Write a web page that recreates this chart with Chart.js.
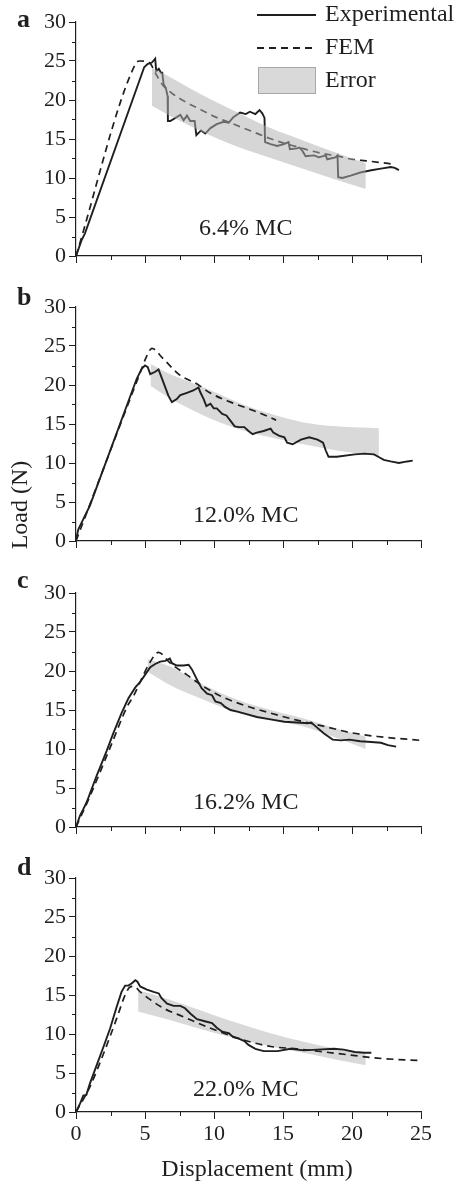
<!DOCTYPE html>
<html>
<head>
<meta charset="utf-8">
<title>Load vs displacement</title>
<script src="https://cdn.jsdelivr.net/npm/chart.js"></script>
<style>
  html, body { margin: 0; padding: 0; background: #fff; }
  #wrap { position: relative; width: 456px; height: 1190px; }
  #wrap canvas { position: absolute; left: 0; }
</style>
</head>
<body>
<div id="wrap"></div>
<script>
// x = displacement (mm), y = load (N)
const xTicks = [0, 5, 10, 15, 20, 25];
const yTicks = [0, 5, 10, 15, 20, 25, 30];
const mcLabels = ['6.4% MC', '12.0% MC', '16.2% MC', '22.0% MC'];
const panelLetters = ['a', 'b', 'c', 'd'];

// (a) 6.4% MC
const expA = [[0,0],[0.4,2.0],[0.65,2.9],[4.94,24.2],[5.18,24.6],[5.5,24.8],[5.74,25.3],[5.81,23.7],[6.0,24.0],[6.15,23.5],[6.25,23.5],[6.35,22.0],[6.5,21.6],[6.64,20.5],[6.66,17.3],[6.83,17.3],[7.3,17.8],[7.56,18.1],[7.8,17.4],[8.04,18.0],[8.28,17.3],[8.6,17.3],[8.72,15.5],[9.06,16.1],[9.37,15.7],[9.74,16.4],[10.2,16.9],[10.7,17.2],[11.07,17.1],[11.4,17.8],[11.9,18.4],[12.3,18.2],[12.6,18.5],[13.0,18.2],[13.3,18.7],[13.5,18.3],[13.66,17.7],[13.7,14.6],[14.1,14.35],[14.58,14.1],[15.07,14.35],[15.4,14.6],[15.5,13.7],[16.0,13.8],[16.2,13.9],[16.4,13.5],[16.64,12.8],[17.25,12.9],[17.6,12.65],[18.1,12.9],[18.2,12.4],[18.8,12.65],[18.95,12.9],[19.0,10.1],[19.3,10.0],[19.9,10.3],[20.6,10.7],[21.4,11.0],[22.1,11.2],[22.8,11.4],[23.1,11.3],[23.4,11.0]];
const femA = [[0,0],[4.3,24.6],[4.6,25.0],[5.3,24.8],[5.8,23.3],[6.3,21.9],[7,20.8],[8,19.7],[9,18.8],[10,17.9],[11,17.2],[12,16.5],[13,15.8],[14,15.1],[15,14.5],[16,14.0],[17,13.5],[18,13.1],[19,12.8],[20,12.4],[21,12.2],[22,12.0],[22.9,11.8]];
const bandAx = [5.5, 6.8, 9.25, 11.7, 14.1, 16.5, 18.9, 21.0];
const bandAhi = [24.15, 22.96, 20.53, 18.4, 16.4, 14.78, 13.2, 11.88];
const bandAlo = [19.25, 17.97, 15.84, 14.01, 12.56, 11.16, 9.75, 8.6];

// (b) 12.0% MC
const expB = [[0,0.2],[0.17,1.5],[0.53,2.8],[1.0,4.5],[4.4,20.8],[4.77,22.1],[5.0,22.5],[5.2,22.3],[5.38,21.4],[5.74,21.7],[5.98,22.0],[6.15,21.2],[6.47,19.7],[6.7,18.6],[6.95,17.8],[7.3,18.2],[7.56,18.7],[8.04,19.0],[8.5,19.3],[8.88,19.7],[9.0,19.1],[9.25,18.2],[9.45,17.3],[9.74,17.6],[9.98,17.0],[10.2,17.0],[10.6,16.3],[10.9,16.1],[11.2,15.4],[11.5,14.7],[11.8,14.6],[12.2,14.6],[12.5,14.1],[12.8,13.7],[13.1,13.9],[13.6,14.1],[14.1,14.4],[14.3,13.9],[14.7,13.5],[15.1,13.3],[15.3,12.6],[15.7,12.4],[16.3,13.0],[16.9,13.3],[17.5,13.0],[17.9,12.6],[18.1,11.6],[18.3,10.8],[18.9,10.8],[20.2,11.1],[20.9,11.2],[21.6,11.1],[22.0,10.7],[22.3,10.4],[22.8,10.2],[23.4,10.0],[24.0,10.2],[24.4,10.3]];
const femB = [[0,0],[4.7,21.8],[5.1,23.6],[5.5,24.7],[6.3,23.4],[7.5,21.3],[8.8,20.1],[9.7,19.0],[11.2,17.8],[12.9,16.7],[14.5,15.5]];
const bandBx = [5.4, 6.8, 9.25, 11.7, 14.1, 16.5, 18.9, 21.95];
const bandBhi = [22.7, 21.4, 19.7, 17.8, 16.3, 15.2, 14.7, 14.45];
const bandBlo = [19.9, 18.3, 16.1, 14.4, 13.3, 12.4, 11.6, 10.9];

// (c) 16.2% MC
const expC = [[0,0],[0.3,1.5],[0.53,2.3],[0.78,3.2],[1.5,6.6],[2.23,9.8],[2.7,12.0],[3.3,14.6],[3.8,16.5],[4.3,17.9],[4.65,18.6],[5.0,19.5],[5.38,20.5],[5.74,20.9],[6.1,21.2],[6.47,21.3],[6.8,21.6],[6.95,21.0],[7.3,20.7],[7.8,20.7],[8.16,20.8],[8.4,20.2],[8.77,18.9],[9.1,17.8],[9.5,17.1],[9.86,16.9],[10.1,16.1],[10.5,15.9],[10.8,15.4],[11.2,15.0],[11.7,14.8],[12.3,14.5],[13.1,14.1],[14.1,13.8],[15.1,13.5],[16.0,13.4],[16.8,13.3],[17.05,13.4],[17.37,12.9],[17.97,12.0],[18.6,11.2],[19.2,11.1],[19.8,11.2],[20.6,11.0],[21.4,10.9],[22.1,10.8],[22.6,10.5],[23.2,10.3]];
const femC = [[0,0],[1.0,3.9],[2.5,10.3],[3.7,15.4],[4.2,16.9],[4.65,18.6],[5.26,20.8],[5.98,22.4],[6.83,21.0],[8.04,19.5],[9.25,18.0],[10.7,16.6],[12.2,15.6],[14.1,14.6],[16.0,13.7],[18.0,12.9],[19.9,12.1],[21.85,11.6],[25,11.1]];
const bandCx = [5.2, 6.8, 9.25, 11.7, 14.1, 16.5, 18.9, 21.0];
const bandChi = [21.5, 20.6, 18.2, 16.3, 15.0, 13.9, 12.6, 11.6];
const bandClo = [19.9, 18.2, 16.3, 14.6, 13.7, 12.9, 11.4, 10.0];

// (d) 22.0% MC
const expD = [[0,0],[0.3,1.1],[0.53,2.1],[0.75,2.2],[1.0,3.6],[1.5,6.0],[2.0,8.4],[2.47,10.7],[2.95,13.5],[3.3,15.4],[3.56,16.2],[3.8,16.2],[4.05,16.5],[4.3,16.9],[4.45,16.7],[4.65,16.1],[5.14,15.7],[5.62,15.4],[6.0,15.2],[6.2,14.6],[6.6,13.9],[7.07,13.6],[7.56,13.6],[7.9,13.3],[8.3,12.6],[8.77,11.9],[9.4,11.6],[9.86,11.4],[10.2,10.8],[10.6,10.3],[11.07,10.1],[11.4,9.6],[11.8,9.4],[12.2,9.1],[12.5,8.6],[13.0,8.1],[13.6,7.8],[14.6,7.8],[15.55,8.1],[16.5,7.9],[17.5,8.0],[18.7,8.1],[19.4,8.0],[20.2,7.7],[20.9,7.6],[21.4,7.6]];
const femD = [[0,0],[1.0,3.2],[2.0,7.5],[2.95,12.0],[3.56,15.0],[3.9,16.0],[4.2,16.1],[4.65,15.4],[5.38,14.4],[6.35,13.3],[7.8,12.2],[9.25,11.1],[10.7,10.1],[12.2,9.2],[14.1,8.4],[16.0,8.1],[18.0,7.7],[19.9,7.3],[21.85,6.9],[24.8,6.6]];
const bandDx = [4.5, 6.8, 9.25, 11.7, 14.1, 16.5, 18.9, 21.0];
const bandDhi = [15.6, 14.4, 12.9, 11.4, 10.1, 9.0, 8.1, 7.5];
const bandDlo = [12.9, 11.8, 10.5, 9.4, 8.4, 7.6, 6.7, 6.0];

const INK = '#1f1f1f';
const SERIF = "'Liberation Serif', 'Times New Roman', serif";

const toXY = pts => pts.map(([x, y]) => ({ x, y }));
const bandXY = (xs, ys) => xs.map((x, i) => ({ x, y: ys[i] }));

// layout of each panel inside the 456x1190 page
const panels = [
  { exp: expA, fem: femA, bx: bandAx, hi: bandAhi, lo: bandAlo, top: 0,   height: 286, bottom: 30, letterY: 27, mcY: 2.7,  bandOnTop: true,  legend: true },
  { exp: expB, fem: femB, bx: bandBx, hi: bandBhi, lo: bandBlo, top: 285, height: 286, bottom: 30, letterY: 20, mcY: 2.45, yTitle: true },
  { exp: expC, fem: femC, bx: bandCx, hi: bandChi, lo: bandClo, top: 571, height: 286, bottom: 30, letterY: 17, mcY: 2.25 },
  { exp: expD, fem: femD, bx: bandDx, hi: bandDhi, lo: bandDlo, top: 856, height: 334, bottom: 78, letterY: 19, mcY: 2.0,  xTitle: true, xLabels: true }
];

// minor ticks, panel letter, MC label, legend and axis titles
const decor = {
  id: 'decor',
  afterDraw(chart, args, o) {
    const ctx = chart.ctx;
    const xs = chart.scales.x, ys = chart.scales.y;
    const area = chart.chartArea;
    ctx.save();
    ctx.strokeStyle = INK;
    ctx.lineWidth = 1;
    ctx.beginPath();
    for (let v = 2.5; v < 30; v += 5) {
      const py = Math.round(ys.getPixelForValue(v)) + 0.5;
      ctx.moveTo(area.left - 4, py);
      ctx.lineTo(area.left, py);
    }
    for (let v = 2.5; v < 25; v += 5) {
      const px = Math.round(xs.getPixelForValue(v)) + 0.5;
      ctx.moveTo(px, area.bottom);
      ctx.lineTo(px, area.bottom + 4);
    }
    ctx.stroke();

    ctx.fillStyle = INK;
    ctx.textBaseline = 'alphabetic';
    ctx.font = 'bold 26px ' + SERIF;
    ctx.textAlign = 'left';
    ctx.fillText(o.letter, 17, o.letterY);

    ctx.font = '24px ' + SERIF;
    ctx.textAlign = 'center';
    ctx.fillText(o.mc, xs.getPixelForValue(12.3), ys.getPixelForValue(o.mcY));

    if (o.legend) {
      ctx.lineWidth = 1.8;
      ctx.beginPath();
      ctx.moveTo(257, 15); ctx.lineTo(316, 15);
      ctx.stroke();
      ctx.setLineDash([7, 5]);
      ctx.beginPath();
      ctx.moveTo(257, 48); ctx.lineTo(316, 48);
      ctx.stroke();
      ctx.setLineDash([]);
      ctx.fillStyle = '#d9d9da';
      ctx.fillRect(258, 67, 58, 27);
      ctx.strokeStyle = '#a8a8a8';
      ctx.lineWidth = 1;
      ctx.strokeRect(258.5, 67.5, 57, 26);
      ctx.fillStyle = INK;
      ctx.textAlign = 'left';
      ctx.textBaseline = 'middle';
      ctx.fillText('Experimental', 325, 15);
      ctx.fillText('FEM', 325, 48);
      ctx.fillText('Error', 325, 81);
    }
    if (o.yTitle) {
      ctx.save();
      ctx.translate(27, 220);
      ctx.rotate(-Math.PI / 2);
      ctx.textAlign = 'center';
      ctx.textBaseline = 'alphabetic';
      ctx.fillText('Load (N)', 0, 0);
      ctx.restore();
    }
    if (o.xTitle) {
      ctx.textAlign = 'center';
      ctx.textBaseline = 'alphabetic';
      ctx.fillText('Displacement (mm)', 257, 320);
    }
    ctx.restore();
  }
};

const wrap = document.getElementById('wrap');

panels.forEach((p, i) => {
  const canvas = document.createElement('canvas');
  canvas.width = 456;
  canvas.height = p.height;
  canvas.style.top = p.top + 'px';
  canvas.style.width = '456px';
  canvas.style.height = p.height + 'px';
  wrap.appendChild(canvas);

  const bandFill = p.bandOnTop ? 'rgba(176,176,178,0.52)' : '#d9d9da';
  const lines = [
    { label: 'Experimental', data: toXY(p.exp), borderColor: INK, borderWidth: 1.9, tension: 0, order: 1 },
    { label: 'FEM', data: toXY(p.fem), borderColor: INK, borderWidth: 1.7, borderDash: [7, 5], cubicInterpolationMode: 'monotone', order: 1 }
  ];
  const band = [
    { label: 'Error', data: bandXY(p.bx, p.hi), borderWidth: 0, backgroundColor: bandFill, fill: '+1', cubicInterpolationMode: 'monotone', order: 0 },
    { label: 'Error low', data: bandXY(p.bx, p.lo), borderWidth: 0, fill: false, cubicInterpolationMode: 'monotone', order: 0 }
  ];
  // in panel a the band sits over the curves (they show through in grey)
  if (!p.bandOnTop) { band.forEach(d => d.order = 2); }

  new Chart(canvas, {
    type: 'line',
    data: { datasets: p.bandOnTop ? band.concat(lines) : lines.concat(band) },
    options: {
      responsive: false,
      devicePixelRatio: 1,
      animation: false,
      elements: { point: { radius: 0 } },
      layout: { padding: { top: 22, right: 35, left: 0, bottom: 0 } },
      plugins: {
        legend: { display: false },
        tooltip: { enabled: false },
        filler: { drawTime: 'beforeDatasetDraw' },
        decor: { letter: panelLetters[i], mc: mcLabels[i], letterY: p.letterY, mcY: p.mcY, legend: !!p.legend, yTitle: !!p.yTitle, xTitle: !!p.xTitle }
      },
      scales: {
        x: {
          type: 'linear',
          min: xTicks[0],
          max: xTicks[xTicks.length - 1],
          afterBuildTicks: s => { s.ticks = xTicks.map(v => ({ value: v })); },
          afterFit: s => { s.height = p.bottom; },
          border: { display: true, color: INK, width: 1.2 },
          grid: { display: true, drawOnChartArea: false, drawTicks: true, tickLength: 7, tickColor: INK, tickWidth: 1 },
          ticks: {
            display: !!p.xLabels,
            padding: 2,
            maxRotation: 0,
            color: INK,
            font: { family: SERIF, size: 22 }
          }
        },
        y: {
          type: 'linear',
          min: yTicks[0],
          max: yTicks[yTicks.length - 1],
          afterBuildTicks: s => { s.ticks = yTicks.map(v => ({ value: v })); },
          afterFit: s => { s.width = 76; },
          border: { display: true, color: INK, width: 1.2 },
          grid: { display: true, drawOnChartArea: false, drawTicks: true, tickLength: 7, tickColor: INK, tickWidth: 1 },
          ticks: {
            padding: 3,
            color: INK,
            font: { family: SERIF, size: 22 }
          }
        }
      }
    },
    plugins: [decor]
  });
});
</script>
</body>
</html>
